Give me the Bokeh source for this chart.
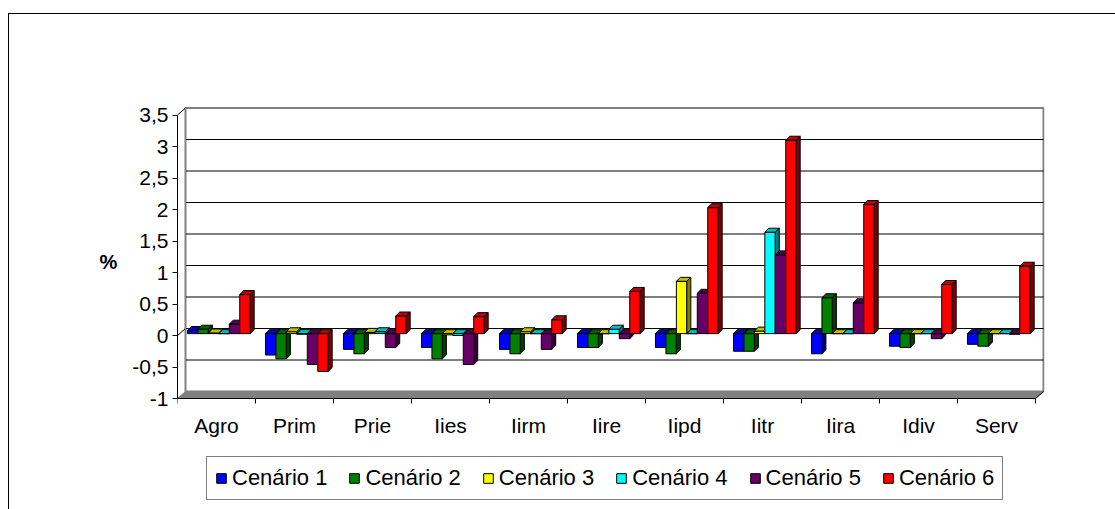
from bokeh.plotting import figure
from bokeh.models import Range1d, FixedTicker, Legend, LegendItem
from bokeh.core.properties import value
from bokeh.embed import file_html
from bokeh.resources import INLINE

# ---- data ----
categories = ["Agro", "Prim", "Prie", "Iies", "Iirm", "Iire", "Iipd", "Iitr", "Iira", "Idiv", "Serv"]
series_names = ["Cenário 1", "Cenário 2", "Cenário 3", "Cenário 4", "Cenário 5", "Cenário 6"]
cen1 = [0.05, -0.34, -0.25, -0.22, -0.25, -0.22, -0.22, -0.28, -0.32, -0.20, -0.17]
cen2 = [0.07, -0.40, -0.32, -0.40, -0.32, -0.22, -0.32, -0.28, 0.57, -0.22, -0.20]
cen3 = [0.01, 0.03, 0.02, -0.02, 0.03, 0.00, 0.83, 0.04, 0.00, 0.00, 0.00]
cen4 = [0.00, -0.01, 0.03, -0.03, 0.00, 0.07, 0.00, 1.61, 0.00, 0.00, 0.00]
cen5 = [0.15, -0.49, -0.22, -0.49, -0.25, -0.08, 0.64, 1.25, 0.49, -0.08, -0.01]
cen6 = [0.62, -0.60, 0.28, 0.27, 0.22, 0.67, 2.00, 3.07, 2.05, 0.78, 1.07]
series = [cen1, cen2, cen3, cen4, cen5, cen6]
y_ticks = [-1, -0.5, 0, 0.5, 1, 1.5, 2, 2.5, 3, 3.5]
y_tick_labels = ["-1", "-0,5", "0", "0,5", "1", "1,5", "2", "2,5", "3", "3,5"]

front_colors = ["#0000FF", "#008000", "#FFFF00", "#00FFFF", "#660066", "#FF0000"]
top_colors = ["#0000BF", "#006000", "#BFBF00", "#00BFBF", "#4C004C", "#BF0000"]
side_colors = ["#000080", "#004000", "#808000", "#008080", "#330033", "#800000"]

FONT = "Liberation Sans"
FS = "21px"

# 3D geometry (in data units)
YMIN, YMAX = -1.0, 3.5
NCAT = len(categories)
DX, DY = 0.1026, 0.111      # wall depth
SX, SY = 0.051, 0.063       # bar depth
OFF, W = 0.128, 0.134       # bar offset/width within category
BY = 0.03                   # bar base
PXY = 63.0                  # pixels per y unit
PXX = 78.0                  # pixels per category
FW, FH = 867, 495
Y_TOP = YMIN + 384 / PXY
Y_BOT = Y_TOP - FH / PXY

p = figure(frame_width=FW, frame_height=FH,
           x_range=Range1d(0, FW / PXX), y_range=Range1d(Y_BOT, Y_TOP),
           output_backend="svg", toolbar_location=None, x_axis_location=None,
           min_border_left=168, min_border_right=71, min_border_top=0, min_border_bottom=0)
p.styles = {"margin-top": "13px", "margin-left": "8px",
            "border-left": "1px solid black", "border-top": "1px solid black"}
p.outline_line_color = None
p.xgrid.visible = False
p.ygrid.visible = False
p.background_fill_color = "white"
p.border_fill_color = "white"

# back wall
p.patch([DX, DX, NCAT + DX, NCAT + DX], [YMIN + DY, YMAX + DY, YMAX + DY, YMIN + DY],
        fill_color="white", line_color="#808080", line_width=2)
# floor
p.patch([0, NCAT, NCAT + DX, DX], [YMIN, YMIN, YMIN + DY, YMIN + DY],
        fill_color="#808080", line_color="#808080", line_width=1)
# gridlines on the wall
gy = [t for t in y_ticks if YMIN < t < YMAX]
p.segment(x0=[DX] * len(gy), y0=[t + DY for t in gy], x1=[NCAT + DX] * len(gy), y1=[t + DY for t in gy],
          line_color="black", line_width=1)
# diagonals from front axis to wall (zero, top)
p.segment(x0=[0, 0], y0=[0, YMAX], x1=[DX, DX], y1=[DY, YMAX + DY], line_color="black", line_width=1)
p.segment(x0=[DX], y0=[YMIN + DY], x1=[DX], y1=[YMAX + DY], line_color="#808080", line_width=1)
p.segment(x0=[NCAT], y0=[YMIN], x1=[NCAT + DX], y1=[YMIN + DY], line_color="black", line_width=1)

# category axis (front floor edge), ticks at category boundaries, labels at centres
bounds_x = list(range(NCAT + 1))
p.segment(x0=[0], y0=[YMIN], x1=[NCAT], y1=[YMIN], line_color="black", line_width=1)
p.segment(x0=bounds_x, y0=[YMIN] * len(bounds_x), x1=bounds_x, y1=[YMIN - 5 / PXY] * len(bounds_x),
          line_color="black", line_width=1)
centers = [c + 0.5 for c in range(NCAT)]
p.text(x=centers, y=[YMIN - 27 / PXY] * NCAT, text=categories,
       text_font=value(FONT), text_font_size=FS, text_color="black",
       text_align="center", text_baseline="middle")

legend_items = []
for i, vals in enumerate(series):
    x0 = [c + OFF + i * W for c in range(NCAT)]
    x1 = [x + W for x in x0]
    lo = [min(BY, BY + v) for v in vals]
    hi = [max(BY, BY + v) for v in vals]
    fr = p.quad(left=x0, right=x1, bottom=lo, top=hi, fill_color=front_colors[i],
                line_color="black", line_width=1)
    # top faces
    p.patches(xs=[[a, b, b + SX, a + SX] for a, b in zip(x0, x1)],
              ys=[[h, h, h + SY, h + SY] for h in hi],
              fill_color=top_colors[i], line_color="black", line_width=1)
    # side faces
    p.patches(xs=[[b, b + SX, b + SX, b] for b in x1],
              ys=[[l, l + SY, h + SY, h] for l, h in zip(lo, hi)],
              fill_color=side_colors[i], line_color="black", line_width=1)
    legend_items.append(LegendItem(label=series_names[i], renderers=[fr]))

# value axis
yax = p.yaxis[0]
yax.ticker = FixedTicker(ticks=y_ticks)
yax.major_label_overrides = {t: s for t, s in zip(y_ticks, y_tick_labels)}
yax.bounds = (YMIN, YMAX)
yax.major_tick_in = 0
yax.major_tick_out = 5
yax.minor_tick_line_color = None
yax.axis_line_color = "black"
yax.major_tick_line_color = "black"
yax.major_label_standoff = 4
yax.major_label_text_font = FONT
yax.major_label_text_font_size = FS
yax.major_label_text_color = "black"
yax.axis_label = "%"
yax.axis_label_text_font = FONT
yax.axis_label_text_font_size = "20px"
yax.axis_label_text_font_style = "bold"
yax.axis_label_text_color = "black"
yax.axis_label_text_baseline = "alphabetic"
yax.axis_label_standoff = 12
if "axis_label_orientation" in yax.properties():
    yax.axis_label_orientation = "horizontal"

legend = Legend(items=legend_items, orientation="horizontal", location=(29, 9),
                label_text_font=FONT, label_text_font_size="22px", label_text_color="black",
                label_standoff=5, glyph_width=12, glyph_height=12, spacing=21, padding=8, margin=0,
                border_line_color="black", border_line_width=1, background_fill_alpha=1)
p.add_layout(legend, "center")

open("out.html", "w").write(file_html(p, INLINE))
